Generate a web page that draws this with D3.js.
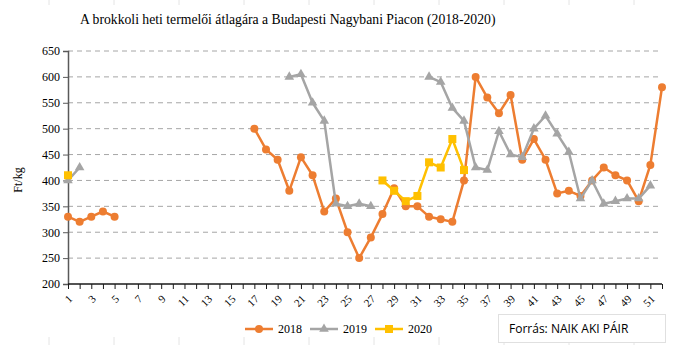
<!DOCTYPE html>
<html>
<head>
<meta charset="utf-8">
<script src="https://cdn.jsdelivr.net/npm/d3@7"></script>
<style>
  body { margin: 0; background: #fff; }
  svg { display: block; }
</style>
</head>
<body>
<svg id="chart" width="678" height="345"></svg>
<script>
// weeks 1..52
const weeks = [1,2,3,4,5,6,7,8,9,10,11,12,13,14,15,16,17,18,19,20,21,22,23,24,25,26,
  27,28,29,30,31,32,33,34,35,36,37,38,39,40,41,42,43,44,45,46,47,48,49,50,51,52];

const values2018 = [330,320,330,340,330,null,null,null,null,null,null,null,null,null,null,null,
  500,460,440,380,445,410,340,365,300,250,290,335,385,350,350,330,325,320,400,600,
  560,530,565,440,480,440,375,380,370,400,425,410,400,360,430,580];

const values2019 = [400,425,null,null,null,null,null,null,null,null,null,null,null,null,null,null,
  null,null,null,600,605,550,515,355,350,355,350,null,null,null,null,600,590,540,515,425,
  420,495,450,445,500,525,490,455,365,400,355,360,365,365,390,null];

const values2020 = [410,null,null,null,null,null,null,null,null,null,null,null,null,null,null,null,
  null,null,null,null,null,null,null,null,null,null,null,400,380,360,370,435,425,480,420,null,
  null,null,null,null,null,null,null,null,null,null,null,null,null,null,null,null];

const yTicks = [200,250,300,350,400,450,500,550,600,650];
const xLabels = [1,3,5,7,9,11,13,15,17,19,21,23,25,27,29,31,33,35,37,39,41,43,45,47,49,51];

const series = [
  { name: '2018', values: values2018, color: '#ED7D31', marker: 'circle' },
  { name: '2019', values: values2019, color: '#A5A5A5', marker: 'triangle' },
  { name: '2020', values: values2020, color: '#FFC000', marker: 'square' }
];

const svg = d3.select('#chart');
const serif = '"Liberation Serif", "Times New Roman", serif';

const plotLeft = 68, plotRight = 662, plotTop = 51, plotBottom = 284;

const x = d3.scalePoint().domain(weeks).range([plotLeft, plotRight]);
const y = d3.scaleLinear().domain([200, 650]).range([plotBottom, plotTop]);

// faint slide guides at the edges
[49,114,179,244,309,374,439,504,569,634].forEach(function (gx) {
  svg.append('line').attr('x1', gx).attr('x2', gx).attr('y1', 0).attr('y2', 5)
    .attr('stroke', '#e4e4e4').attr('stroke-width', 1);
  svg.append('line').attr('x1', gx).attr('x2', gx).attr('y1', 337).attr('y2', 345)
    .attr('stroke', '#e4e4e4').attr('stroke-width', 1);
});

// title
svg.append('text')
  .attr('x', 80).attr('y', 24)
  .style('font-family', serif).style('font-size', '13.7px').attr('fill', '#000')
  .text('A brokkoli heti termelői átlagára a Budapesti Nagybani Piacon (2018-2020)');

// grid
svg.append('g').selectAll('line')
  .data(yTicks.filter(function (d) { return d > 200; }))
  .enter().append('line')
  .attr('x1', plotLeft).attr('x2', plotRight)
  .attr('y1', function (d) { return y(d); })
  .attr('y2', function (d) { return y(d); })
  .attr('stroke', '#a6a6a6').attr('stroke-width', 1)
  .attr('stroke-dasharray', '5,4');

// y axis
const yAxis = svg.append('g')
  .attr('transform', 'translate(' + plotLeft + ',0)')
  .call(d3.axisLeft(y).tickValues(yTicks).tickSize(5).tickPadding(3))
  .attr('font-family', serif).attr('font-size', 12);
yAxis.select('.domain').attr('stroke', '#595959').attr('stroke-width', 1.5);
yAxis.selectAll('.tick line').attr('stroke', '#595959');
yAxis.selectAll('text').style('font-family', serif).style('font-size', '12px').attr('fill', '#000');

// x axis
const xAxis = svg.append('g')
  .attr('transform', 'translate(0,' + plotBottom + ')')
  .call(d3.axisBottom(x).tickSize(5)
    .tickFormat(function (d) { return xLabels.indexOf(d) >= 0 ? d : ''; }))
  .attr('font-family', serif).attr('font-size', 11);
xAxis.select('.domain').attr('d', 'M' + plotLeft + ',0H' + plotRight).attr('stroke', '#1a1a1a').attr('stroke-width', 1.5);
xAxis.selectAll('.tick line').attr('stroke', '#1a1a1a');
xAxis.selectAll('text')
  .style('font-family', serif).style('font-size', '11px').attr('fill', '#000')
  .style('text-anchor', 'end')
  .attr('x', 0).attr('y', 0).attr('dx', 0).attr('dy', '0.35em')
  .attr('transform', 'translate(2,13) rotate(-45)');

// y label
svg.append('text')
  .attr('transform', 'translate(22,180) rotate(-90)')
  .attr('text-anchor', 'middle')
  .style('font-family', serif).style('font-size', '12px')
  .text('Ft/kg');

function drawMarker(g, type, color) {
  if (type === 'circle') {
    g.append('circle').attr('r', 4).attr('fill', color);
  } else if (type === 'triangle') {
    g.append('path').attr('d', d3.symbol(d3.symbolTriangle, 40)()).attr('fill', color);
  } else {
    g.append('rect').attr('x', -4).attr('y', -4).attr('width', 8).attr('height', 8).attr('fill', color);
  }
}

const line = d3.line()
  .defined(function (d) { return d.v !== null; })
  .x(function (d) { return x(d.w); })
  .y(function (d) { return y(d.v); });

series.forEach(function (s) {
  const pts = weeks.map(function (w, i) { return { w: w, v: s.values[i] }; });
  svg.append('path')
    .datum(pts)
    .attr('fill', 'none')
    .attr('stroke', s.color)
    .attr('stroke-width', 2.5)
    .attr('stroke-linejoin', 'round')
    .attr('d', line);
  pts.filter(function (d) { return d.v !== null; }).forEach(function (d) {
    const g = svg.append('g').attr('transform', 'translate(' + x(d.w) + ',' + y(d.v) + ')');
    drawMarker(g, s.marker, s.color);
  });
});

// legend
const legend = svg.append('g').attr('transform', 'translate(245,329)');
series.forEach(function (s, i) {
  const g = legend.append('g').attr('transform', 'translate(' + (i * 65) + ',0)');
  g.append('line').attr('x1', 0).attr('x2', 28).attr('y1', 0).attr('y2', 0)
    .attr('stroke', s.color).attr('stroke-width', 2.5);
  const m = g.append('g').attr('transform', 'translate(14,0)');
  drawMarker(m, s.marker, s.color);
  g.append('text').attr('x', 33).attr('y', 4)
    .style('font-family', serif).style('font-size', '12px')
    .text(s.name);
});

// source box
svg.append('rect')
  .attr('x', 498.5).attr('y', 314.5).attr('width', 167).attr('height', 28)
  .attr('fill', '#fff').attr('stroke', '#e0e0e0');
svg.append('text')
  .attr('x', 509).attr('y', 333)
  .style('font-family', '"Open Sans", "Liberation Sans", sans-serif').style('font-size', '12px')
  .attr('fill', '#000')
  .text('Forrás: NAIK AKI PÁIR');
</script>
</body>
</html>
